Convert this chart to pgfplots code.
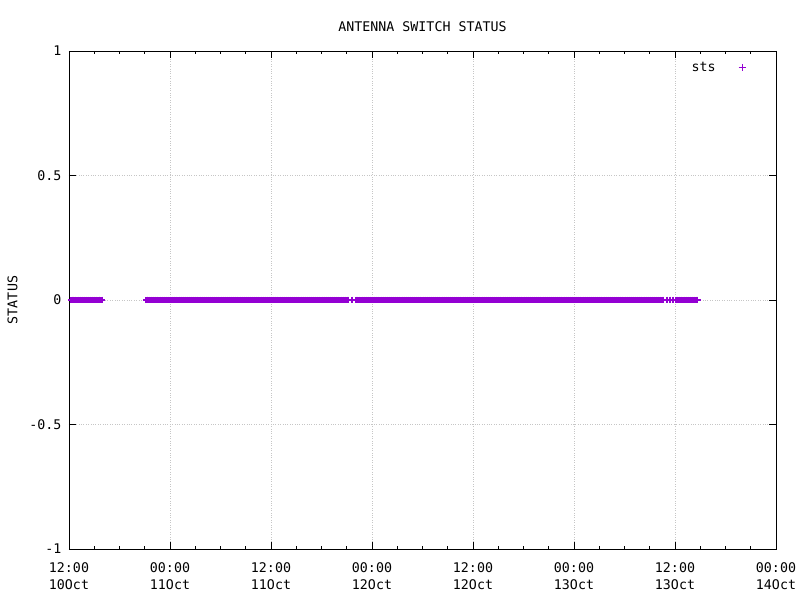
\documentclass[border=0pt]{standalone}
\usepackage{pgfplots}
\pgfplotsset{compat=1.18}
\usepackage{fontspec}
\setmainfont{DejaVu Sans Mono}
\definecolor{gpurple}{RGB}{148,0,211}
\newcommand{\gfont}{\fontsize{13.3}{17}\selectfont}
\begin{document}
\begin{tikzpicture}[x=1pt,y=1pt]
\useasboundingbox (-69,-51) rectangle (731,549);
\begin{axis}[
  at={(0,0)}, anchor=south west,
  scale only axis, width=707pt, height=498pt,
  xmin=0, xmax=84, ymin=-1, ymax=1,
  xtick={0,12,24,36,48,60,72,84},
  xticklabels={{12:00\\10Oct},{00:00\\11Oct},{12:00\\11Oct},{00:00\\12Oct},{12:00\\12Oct},{00:00\\13Oct},{12:00\\13Oct},{00:00\\14Oct}},
  minor x tick num=3,
  ytick={-1,-0.5,0,0.5,1},
  yticklabels={-1,-0.5,0,0.5,1},
  tick align=inside,
  major tick length=7pt, minor tick length=3.5pt,
  tick style={black, line width=0.8pt},
  axis line style={black, line width=0.9pt},
  grid=major,
  major grid style={dotted, gray!45, line width=0.6pt},
  xticklabel style={align=center, font=\gfont, yshift=-10pt},
  yticklabel style={font=\gfont, xshift=-4pt},
  /pgf/number format/assume math mode=true,
  title={ANTENNA SWITCH STATUS},
  title style={font=\gfont, yshift=10pt},
  ylabel={STATUS},
  ylabel style={font=\gfont, yshift=5pt},
  legend style={draw=none, fill=none, font=\gfont, at={(axis description cs:0.9614,0.986)}, anchor=north east},
  legend plot pos=right,
  legend cell align=right,
  legend image post style={line width=0.9pt, mark size=3.4pt},
]
\addplot[only marks, mark=+, mark size=3.4pt, color=gpurple, line width=2.2pt] coordinates {
(0.3,0) (0.5,0) (0.75,0) (1,0) (1.25,0) (1.5,0) (1.75,0) (2,0) (2.25,0) (2.5,0) (2.75,0) (3,0) (3.25,0) (3.5,0) (3.6,0) (3.85,0)
(9.2,0) (9.3,0) (9.5,0) (9.75,0)
(10,0) (10.25,0) (10.5,0) (10.75,0) (11,0) (11.25,0) (11.5,0) (11.75,0)
(12,0) (12.25,0) (12.5,0) (12.75,0) (13,0) (13.25,0) (13.5,0) (13.75,0)
(14,0) (14.25,0) (14.5,0) (14.75,0) (15,0) (15.25,0) (15.5,0) (15.75,0)
(16,0) (16.25,0) (16.5,0) (16.75,0) (17,0) (17.25,0) (17.5,0) (17.75,0)
(18,0) (18.25,0) (18.5,0) (18.75,0) (19,0) (19.25,0) (19.5,0) (19.75,0)
(20,0) (20.25,0) (20.5,0) (20.75,0) (21,0) (21.25,0) (21.5,0) (21.75,0)
(22,0) (22.25,0) (22.5,0) (22.75,0) (23,0) (23.25,0) (23.5,0) (23.75,0)
(24,0) (24.25,0) (24.5,0) (24.75,0) (25,0) (25.25,0) (25.5,0) (25.75,0)
(26,0) (26.25,0) (26.5,0) (26.75,0) (27,0) (27.25,0) (27.5,0) (27.75,0)
(28,0) (28.25,0) (28.5,0) (28.75,0) (29,0) (29.25,0) (29.5,0) (29.75,0)
(30,0) (30.25,0) (30.5,0) (30.75,0) (31,0) (31.25,0) (31.5,0) (31.75,0)
(32,0) (32.25,0) (32.5,0) (32.75,0) (33,0) (33.12,0)
(33.66,0)
(34.1,0) (34.25,0) (34.5,0) (34.75,0)
(35,0) (35.25,0) (35.5,0) (35.75,0) (36,0) (36.25,0) (36.5,0) (36.75,0)
(37,0) (37.25,0) (37.5,0) (37.75,0) (38,0) (38.25,0) (38.5,0) (38.75,0)
(39,0) (39.25,0) (39.5,0) (39.75,0) (40,0) (40.25,0) (40.5,0) (40.75,0)
(41,0) (41.25,0) (41.5,0) (41.75,0) (42,0) (42.25,0) (42.5,0) (42.75,0)
(43,0) (43.25,0) (43.5,0) (43.75,0) (44,0) (44.25,0) (44.5,0) (44.75,0)
(45,0) (45.25,0) (45.5,0) (45.75,0) (46,0) (46.25,0) (46.5,0) (46.75,0)
(47,0) (47.25,0) (47.5,0) (47.75,0) (48,0) (48.25,0) (48.5,0) (48.75,0)
(49,0) (49.25,0) (49.5,0) (49.75,0) (50,0) (50.25,0) (50.5,0) (50.75,0)
(51,0) (51.25,0) (51.5,0) (51.75,0) (52,0) (52.25,0) (52.5,0) (52.75,0)
(53,0) (53.25,0) (53.5,0) (53.75,0) (54,0) (54.25,0) (54.5,0) (54.75,0)
(55,0) (55.25,0) (55.5,0) (55.75,0) (56,0) (56.25,0) (56.5,0) (56.75,0)
(57,0) (57.25,0) (57.5,0) (57.75,0) (58,0) (58.25,0) (58.5,0) (58.75,0)
(59,0) (59.25,0) (59.5,0) (59.75,0) (60,0) (60.25,0) (60.5,0) (60.75,0)
(61,0) (61.25,0) (61.5,0) (61.75,0) (62,0) (62.25,0) (62.5,0) (62.75,0)
(63,0) (63.25,0) (63.5,0) (63.75,0) (64,0) (64.25,0) (64.5,0) (64.75,0)
(65,0) (65.25,0) (65.5,0) (65.75,0) (66,0) (66.25,0) (66.5,0) (66.75,0)
(67,0) (67.25,0) (67.5,0) (67.75,0) (68,0) (68.25,0) (68.5,0) (68.75,0)
(69,0) (69.25,0) (69.5,0) (69.75,0) (70,0) (70.25,0) (70.5,0) (70.55,0)
(71.01,0) (71.41,0) (71.8,0)
(72.1,0) (72.25,0) (72.5,0) (72.75,0) (73,0) (73.25,0) (73.5,0) (73.75,0)
(74,0) (74.25,0) (74.45,0) (74.65,0)
};
\addlegendentry{sts\rule{21pt}{0pt}}
\end{axis}
\end{tikzpicture}
\end{document}
